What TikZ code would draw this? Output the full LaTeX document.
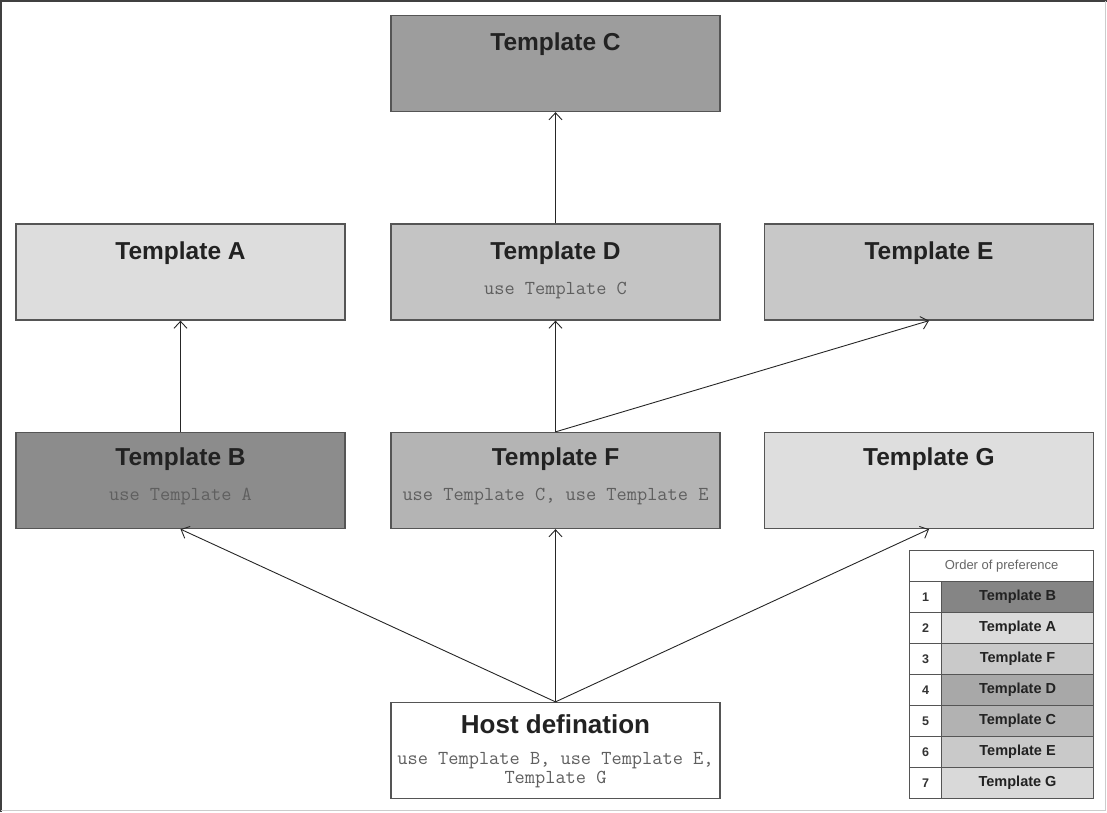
\documentclass[tikz,border=0pt]{standalone}
\usepackage{fontspec}
\usepackage{tikz}
\usetikzlibrary{arrows.meta, calc, positioning}
\setmainfont{Liberation Sans}

\definecolor{boxline}{RGB}{85,85,85}
\definecolor{fillC}{RGB}{157,157,157}
\definecolor{fillA}{RGB}{221,221,221}
\definecolor{fillD}{RGB}{196,196,196}
\definecolor{fillE}{RGB}{200,200,200}
\definecolor{fillB}{RGB}{140,140,140}
\definecolor{fillF}{RGB}{180,180,180}
\definecolor{fillG}{RGB}{222,222,222}
\definecolor{usetext}{RGB}{95,95,95}
\definecolor{titletext}{RGB}{34,34,34}

\tikzset{
  tbox/.style={draw=boxline, line width=1.3pt, rectangle, inner sep=0pt,
    minimum width=329pt, minimum height=96pt},
  ttl/.style={anchor=base, text=titletext, font=\fontsize{24.5}{28}\selectfont\bfseries},
  usetxt/.style={anchor=base, text=usetext, font=\ttfamily\fontsize{19.8}{21}\selectfont},
  link/.style={draw=black!85, line width=0.9pt, -{Straight Barb[length=7pt,width=13pt]}},
  lcell/.style={draw=boxline, line width=1.1pt, rectangle, inner sep=0pt,
    minimum height=31pt, anchor=north west},
}

\begin{document}
\begin{tikzpicture}[x=1pt,y=1pt,yscale=-1]
\useasboundingbox (0,0) rectangle (1107,812);

% frame
\draw[line width=2pt, black!75] (1107,1) -- (1,1) -- (1,812);
\draw[line width=1pt, black!20] (1,810.5) -- (1105.5,810.5) -- (1105.5,1);

% template boxes
\node[tbox, fill=fillC] (tc) at (555.5,63.5) {};
\node[tbox, fill=fillA] (ta) at (180.5,272) {};
\node[tbox, fill=fillD] (td) at (555.5,272) {};
\node[tbox, fill=fillE] (te) at (929,272) {};
\node[tbox, fill=fillB] (tb) at (180.5,480.5) {};
\node[tbox, fill=fillF] (tf) at (555.5,480.5) {};
\node[tbox, fill=fillG] (tg) at (929,480.5) {};
\node[tbox, fill=white] (host) at (555.5,750.5) {};

% Text Node
\node[ttl] at ($(tc.north)+(0,36)$) {Template C};
\node[ttl] at ($(ta.north)+(0,36)$) {Template A};
\node[ttl] at ($(td.north)+(0,36)$) {Template D};
\node[ttl] at ($(te.north)+(0,36)$) {Template E};
\node[ttl] at ($(tb.north)+(0,34)$) {Template B};
\node[ttl] at ($(tf.north)+(0,34)$) {Template F};
\node[ttl] at ($(tg.north)+(0,34)$) {Template G};
\node[ttl, font=\fontsize{26}{30}\selectfont\bfseries] at ($(host.north)+(0,32)$) {Host defination};

\node[usetxt] at ($(td.north)+(0,71)$) {use Template C};
\node[usetxt] at ($(tb.north)+(0,69)$) {use Template A};
\node[usetxt] at ($(tf.north)+(0,69)$) {use Template C, use Template E};
\node[usetxt] at ($(host.north)+(0,63)$) {use Template B, use Template E,};
\node[usetxt] at ($(host.north)+(0,82)$) {Template G};

% connectors
\draw[link] (td.north) -- (tc.south);
\draw[link] (tb.north) -- (ta.south);
\draw[link] (tf.north) -- (td.south);
\draw[link] (tf.north) -- (te.south);
\draw[link] (host.north) -- (tb.south);
\draw[link] (host.north) -- (tf.south);
\draw[link] (host.north) -- (tg.south);

% order of preference
\node[lcell, fill=white, minimum width=184pt] (lhead) at (909,550) {};
\node[text=black!60, font=\fontsize{13}{15}\selectfont] at (lhead.center) {Order of preference};
\foreach \i/\nm/\shade in {1/B/52, 2/A/86, 3/F/79, 4/D/66, 5/C/70, 6/E/79, 7/G/85} {
  \node[lcell, fill=white, minimum width=32pt] (num\i) at (909,{581+31*(\i-1)}) {};
  \node[lcell, fill=white!\shade!black, minimum width=152pt] (row\i) at (941,{581+31*(\i-1)}) {};
  \node[text=black!80, font=\fontsize{12.5}{14}\selectfont\bfseries] at (num\i.center) {\i};
  \node[text=titletext, font=\fontsize{14.5}{16}\selectfont\bfseries] at (row\i.center) {Template \nm};
}
\end{tikzpicture}
\end{document}
